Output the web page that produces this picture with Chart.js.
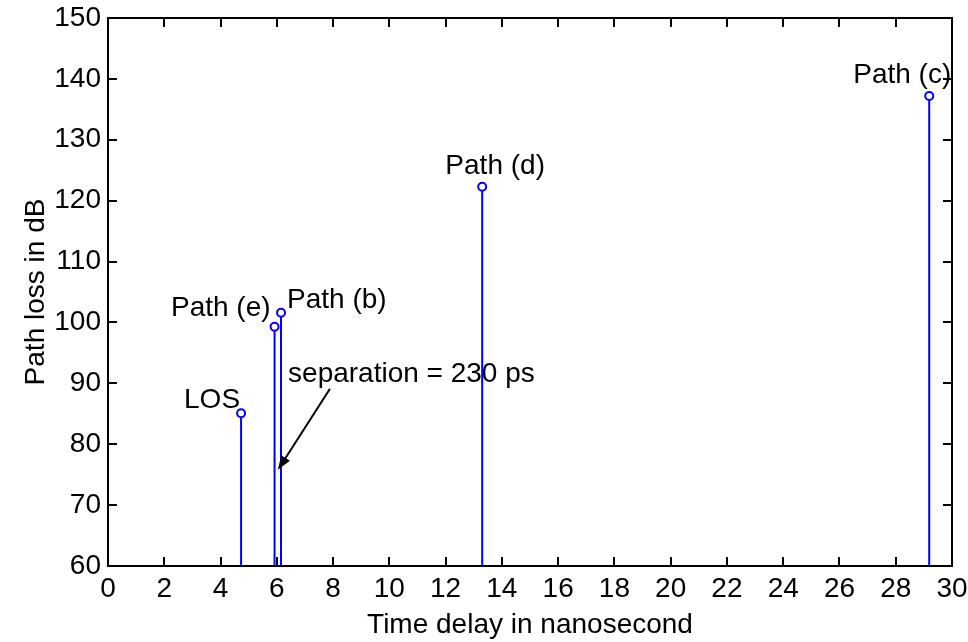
<!DOCTYPE html>
<html>
<head>
<meta charset="utf-8">
<style>
  html, body { margin: 0; padding: 0; background: #fff; }
  #wrap { width: 968px; height: 642px; }
</style>
<script src="https://cdn.jsdelivr.net/npm/chart.js@4/dist/chart.umd.min.js"></script>
</head>
<body>
<div id="wrap"><canvas id="myChart" width="968" height="642"></canvas></div>
<script>
// ray paths: arrival delay (ns) and path loss (dB)
const pathNames = ['LOS', 'Path (e)', 'Path (b)', 'Path (d)', 'Path (c)'];
const delays = [4.73, 5.92, 6.15, 13.30, 29.19];
const losses = [85.1, 99.3, 101.6, 122.3, 137.2];

// label offsets from each marker, in pixels: [dx, dy, align]
const labelOffsets = [
    [-1, -5, 'right'],
    [-4, -11, 'right'],
    [6, -5, 'left'],
    [13, -13, 'center'],
    [-76, -13, 'left']
];

// separation note: text anchor and arrow tail/tip in data units
const noteText = 'separation = 230 ps';
const noteAt = [6.40, 90.2];
const arrowFrom = [7.89, 89.1];
const arrowTo = [6.04, 75.8];

const xTicks = { min: 0, max: 30, step: 2 };
const yTicks = { min: 60, max: 150, step: 10 };

const BLUE = '#0000ff';

// prefer the narrow face if it's installed, otherwise regular Liberation Sans
function pickFont() {
    const c = document.createElement('canvas').getContext('2d');
    c.font = "40px 'Liberation Sans Narrow', monospace";
    const a = c.measureText('Path loss 0123').width;
    c.font = '40px monospace';
    const b = c.measureText('Path loss 0123').width;
    if (Math.abs(a - b) > 0.5) {
        return { family: "'Liberation Sans Narrow', 'Liberation Sans', Arial, sans-serif", size: 33 };
    }
    return { family: "'Liberation Sans', Arial, sans-serif", size: 28 };
}
const FONT = pickFont();

Chart.defaults.font.family = FONT.family;
Chart.defaults.font.size = FONT.size;
Chart.defaults.color = '#000';

// stems: one short line from the floor up to each marker
const stemSets = delays.map((d, i) => ({
    type: 'line',
    data: [{ x: d, y: yTicks.min }, { x: d, y: losses[i] }],
    borderColor: BLUE,
    borderWidth: 2,
    pointRadius: 0,
    fill: false,
    order: 1
}));

const markerSet = {
    type: 'scatter',
    data: delays.map((d, i) => ({ x: d, y: losses[i] })),
    pointStyle: 'circle',
    pointRadius: 4,
    borderWidth: 2,
    borderColor: BLUE,
    backgroundColor: '#fff',
    order: 0
};

// box around the plot with inward ticks on all four sides
const framePlugin = {
    id: 'frame',
    afterDatasetsDraw(chart) {
        const ctx = chart.ctx;
        const a = chart.chartArea;
        const xs = chart.scales.x, ys = chart.scales.y;
        const len = 9;
        ctx.save();
        ctx.strokeStyle = '#000';
        ctx.lineWidth = 2;
        ctx.beginPath();
        xs.ticks.forEach(t => {
            const px = Math.round(xs.getPixelForValue(t.value));
            ctx.moveTo(px, a.bottom); ctx.lineTo(px, a.bottom - len);
            ctx.moveTo(px, a.top); ctx.lineTo(px, a.top + len);
        });
        ys.ticks.forEach(t => {
            const py = Math.round(ys.getPixelForValue(t.value));
            ctx.moveTo(a.left, py); ctx.lineTo(a.left + len, py);
            ctx.moveTo(a.right, py); ctx.lineTo(a.right - len, py);
        });
        ctx.stroke();
        ctx.strokeRect(a.left, a.top, a.right - a.left, a.bottom - a.top);
        ctx.restore();
    }
};

// path names next to markers, plus the separation note and arrow
const notesPlugin = {
    id: 'notes',
    afterDraw(chart) {
        const ctx = chart.ctx;
        const xs = chart.scales.x, ys = chart.scales.y;
        ctx.save();
        ctx.fillStyle = '#000';
        ctx.font = FONT.size + 'px ' + FONT.family;
        ctx.textBaseline = 'alphabetic';
        pathNames.forEach((name, i) => {
            const px = xs.getPixelForValue(delays[i]);
            const py = ys.getPixelForValue(losses[i]);
            const [dx, dy, align] = labelOffsets[i];
            ctx.textAlign = align;
            ctx.fillText(name, px + dx, py + dy);
        });

        ctx.textAlign = 'left';
        ctx.fillText(noteText, xs.getPixelForValue(noteAt[0]), ys.getPixelForValue(noteAt[1]));

        const x1 = xs.getPixelForValue(arrowFrom[0]), y1 = ys.getPixelForValue(arrowFrom[1]);
        const x2 = xs.getPixelForValue(arrowTo[0]), y2 = ys.getPixelForValue(arrowTo[1]);
        const ang = Math.atan2(y2 - y1, x2 - x1);
        const head = 15, spread = 0.35;
        ctx.strokeStyle = '#000';
        ctx.lineWidth = 2;
        ctx.beginPath();
        ctx.moveTo(x1, y1);
        ctx.lineTo(x2 - Math.cos(ang) * head * 0.8, y2 - Math.sin(ang) * head * 0.8);
        ctx.stroke();
        ctx.beginPath();
        ctx.moveTo(x2, y2);
        ctx.lineTo(x2 - head * Math.cos(ang - spread), y2 - head * Math.sin(ang - spread));
        ctx.lineTo(x2 - head * Math.cos(ang + spread), y2 - head * Math.sin(ang + spread));
        ctx.closePath();
        ctx.fill();
        ctx.restore();
    }
};

const ctx = document.getElementById('myChart').getContext('2d');

new Chart(ctx, {
    type: 'scatter',
    data: { datasets: [markerSet, ...stemSets] },
    options: {
        responsive: false,
        animation: false,
        devicePixelRatio: 1,
        layout: { padding: { top: 18, right: 16, left: 0, bottom: 0 } },
        plugins: {
            legend: { display: false },
            tooltip: { enabled: false },
            title: { display: false }
        },
        scales: {
            x: {
                type: 'linear',
                min: xTicks.min,
                max: xTicks.max,
                grid: { display: false, drawTicks: false },
                border: { display: false },
                ticks: { stepSize: xTicks.step, padding: 6, maxRotation: 0, autoSkip: false },
                title: {
                    display: true,
                    text: 'Time delay in nanosecond',
                    padding: { top: 0, bottom: 0 }
                },
                afterFit(scale) {
                    scale.height = 76;
                    scale.paddingLeft = 0;
                    scale.paddingRight = 0;
                }
            },
            y: {
                type: 'linear',
                min: yTicks.min,
                max: yTicks.max,
                grid: { display: false, drawTicks: false },
                border: { display: false },
                ticks: { stepSize: yTicks.step, padding: 7 },
                title: {
                    display: true,
                    text: 'Path loss in dB',
                    padding: { top: 19, bottom: 0 }
                },
                afterFit(scale) {
                    scale.width = 108;
                    scale.paddingTop = 0;
                    scale.paddingBottom = 0;
                }
            }
        }
    },
    plugins: [framePlugin, notesPlugin]
});
</script>
</body>
</html>
